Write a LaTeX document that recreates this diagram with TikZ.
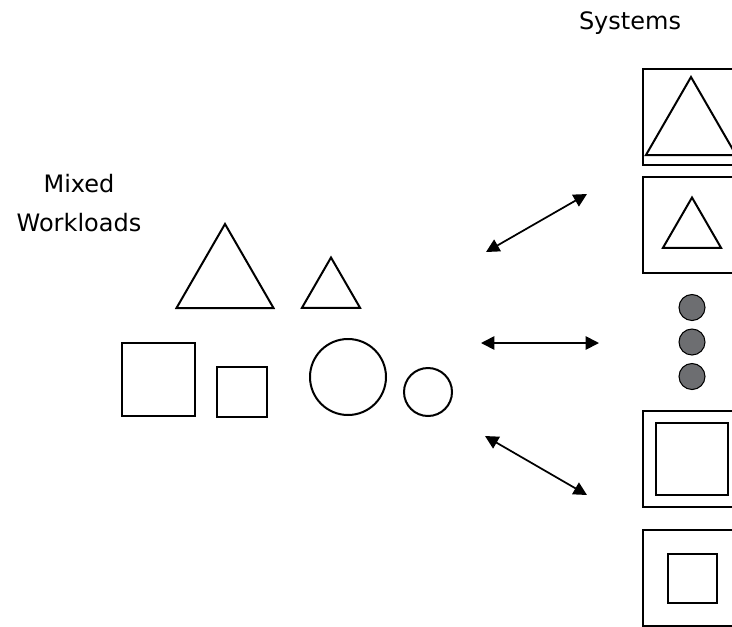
\documentclass[tikz,border=0pt]{standalone}
\usepackage{fontspec}
\setmainfont{DejaVu Sans}
\usetikzlibrary{shapes.geometric,arrows.meta}
\definecolor{dotgray}{HTML}{6D6E71}
\def\pxsize{0.75pt}

\begin{document}
\begin{tikzpicture}[x=\pxsize,y=-\pxsize,line width=1.5pt]
    \tikzstyle{outline}=[draw,rectangle,inner sep=0pt]
    \tikzstyle{tri}=[draw,regular polygon,regular polygon sides=3,inner sep=0pt]
    \tikzstyle{blob}=[draw,circle,inner sep=0pt]
    \tikzstyle{system}=[outline,minimum width=97*\pxsize,minimum height=96*\pxsize]
    \tikzstyle{more dot}=[circle,draw,line width=0.8pt,fill=dotgray,minimum size=26*\pxsize,inner sep=0pt]
    \tikzstyle{heading}=[font=\fontsize{18}{29}\selectfont,align=center]
    \tikzstyle{link}=[{Triangle[length=10pt,width=10pt]}-{Triangle[length=10pt,width=10pt]},line width=1.3pt]

    \useasboundingbox (0,0) rectangle (732,626);
    \clip (0,0) rectangle (732,626);

    % Workloads
    \node[tri,minimum size=112*\pxsize] (W-1) at (225,280) {};
    \node[tri,minimum size=67*\pxsize] (W-2) at (331,291) {};
    \node[outline,minimum size=73*\pxsize] (W-3) at (158.5,379.5) {};
    \node[outline,minimum size=50*\pxsize] (W-4) at (242,391.5) {};
    \node[blob,minimum size=76*\pxsize] (W-5) at (348,377) {};
    \node[blob,minimum size=48*\pxsize] (W-6) at (428,392) {};

    % Systems
    \node[system] (S-1) at (691.5,116.5) {};
    \node[tri,minimum size=104*\pxsize] (S-1-in) at (691,129) {};
    \node[system] (S-2) at (691.5,224.5) {};
    \node[tri,minimum size=67*\pxsize] (S-2-in) at (692,231) {};
    \foreach \name/\y in {1/307.5,2/342,3/376.5}
        \node[more dot] (D-\name) at (692,\y) {};
    \node[system] (S-3) at (691.5,459) {};
    \node[outline,minimum size=72*\pxsize] (S-3-in) at (692,459) {};
    \node[system] (S-4) at (691.5,577.5) {};
    \node[outline,minimum size=49*\pxsize] (S-4-in) at (692,578) {};

    % Arrows between the two sides
    \coordinate (A-1-a) at (486,252);
    \coordinate (A-1-b) at (587,194);
    \coordinate (A-2-a) at (481,343);
    \coordinate (A-2-b) at (599,343);
    \coordinate (A-3-a) at (485,436);
    \coordinate (A-3-b) at (587,495);
    \foreach \i in {1,2,3}
        \draw[link] (A-\i-a) -- (A-\i-b);

    % Annotate the sides
    \node[heading] (systems) at (630,23) {Systems};
    \node[heading] (mixed) at (79,203) {Mixed\\Workloads};
\end{tikzpicture}
\end{document}
